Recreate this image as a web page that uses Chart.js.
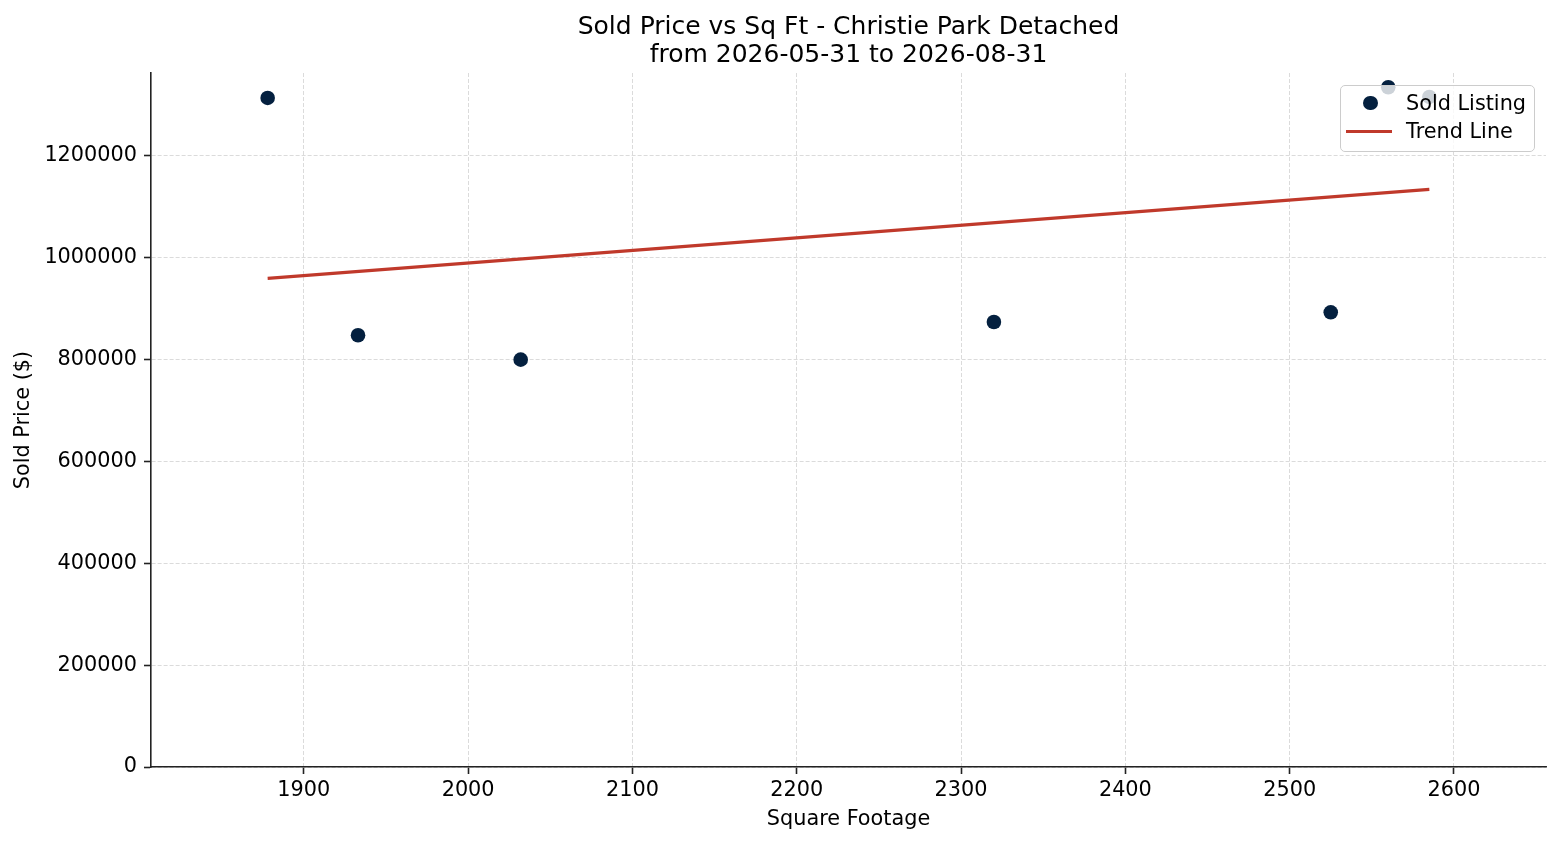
<!DOCTYPE html>
<html>
<head>
<meta charset="utf-8">
<title>Sold Price vs Sq Ft - Christie Park Detached</title>
<script src="https://cdn.jsdelivr.net/npm/chart.js@4.4.1/dist/chart.umd.min.js"></script>
<style>
  html, body { margin: 0; padding: 0; background: #fff; }
  .wrap { position: relative; width: 1560px; height: 845px; }
  #legend {
    position: absolute; left: 1340px; top: 85px; width: 195px; height: 67px;
    box-sizing: border-box; border: 1.5px solid #cccccc; border-radius: 5px;
    background: rgba(255, 255, 255, 0.8);
    font-family: 'DejaVu Sans', sans-serif; font-size: 20.8px; color: #000;
  }
  .item { position: absolute; left: 0; width: 100%; height: 28px; line-height: 28px; }
  .item .label { position: absolute; left: 65px; top: 0; white-space: nowrap; }
  .swatch-point { position: absolute; left: 22px; top: 7px; width: 14.6px; height: 14.6px; border-radius: 50%; }
  .swatch-line { position: absolute; left: 5px; top: 12.5px; width: 46px; height: 3.2px; }
</style>
</head>
<body>
<div class="wrap">
  <canvas id="chart" width="1560" height="845"></canvas>
  <div id="legend"></div>
</div>
<script>
// sold listings
const sqft = [1878, 1933, 2032, 2320, 2525, 2560, 2585];
const soldPrice = [1314000, 848000, 800000, 874000, 893000, 1335000, 1316000];

// trend line end points
const trendSqft = [1878, 2585];
const trendPrice = [959500, 1134500];

const titleLines = ["Sold Price vs Sq Ft - Christie Park Detached", "from 2026-05-31 to 2026-08-31"];
const seriesLabels = ["Sold Listing", "Trend Line"];
const xAxisLabel = "Square Footage";
const yAxisLabel = "Sold Price ($)";

const xTickValues = [1900, 2000, 2100, 2200, 2300, 2400, 2500, 2600];
const yTickValues = [0, 200000, 400000, 600000, 800000, 1000000, 1200000];

const xMin = 1807, xMax = 2656;
const yMin = 0, yMax = 1363000;

const pointColor = "#04203f";
const trendColor = "#c0392b";
const fontFamily = "'DejaVu Sans', sans-serif";

Chart.defaults.font.family = fontFamily;
Chart.defaults.font.size = 20.8;
Chart.defaults.color = "#000";

const gridStyle = {
  color: "rgba(176, 176, 176, 0.5)",
  lineWidth: 0.9,
  drawTicks: true,
  tickLength: 7,
  tickColor: "#222",
  tickWidth: 1.6,
  tickBorderDash: [],
};
const borderStyle = { display: true, color: "#222", width: 1.6, dash: [4, 2] };

const chart = new Chart(document.getElementById("chart").getContext("2d"), {
  type: "scatter",
  data: {
    datasets: [
      {
        label: seriesLabels[0],
        data: sqft.map((x, i) => ({ x: x, y: soldPrice[i] })),
        backgroundColor: pointColor,
        borderColor: pointColor,
        borderWidth: 0,
        pointRadius: 7.3,
        pointHoverRadius: 7.3,
      },
      {
        label: seriesLabels[1],
        type: "line",
        data: trendSqft.map((x, i) => ({ x: x, y: trendPrice[i] })),
        borderColor: trendColor,
        backgroundColor: trendColor,
        borderWidth: 3.2,
        pointRadius: 0,
        showLine: true,
        fill: false,
        tension: 0,
      },
    ],
  },
  options: {
    responsive: false,
    devicePixelRatio: 1,
    animation: false,
    layout: { padding: { top: 0, right: 14, bottom: 0, left: 0 } },
    plugins: {
      legend: { display: false },
      tooltip: { enabled: false },
      title: {
        display: true,
        fullSize: false,
        text: titleLines,
        color: "#000",
        font: { size: 25, weight: "normal", lineHeight: 1.12 },
        padding: { top: 13, bottom: 4 },
      },
    },
    scales: {
      x: {
        type: "linear",
        min: xMin,
        max: xMax,
        afterFit: (scale) => { scale.height = 78; },
        afterBuildTicks: (scale) => { scale.ticks = xTickValues.map((v) => ({ value: v })); },
        ticks: { padding: 4, callback: (v) => String(v) },
        grid: gridStyle,
        border: borderStyle,
        title: { display: true, text: xAxisLabel, padding: { top: 0, bottom: 13 } },
      },
      y: {
        type: "linear",
        min: yMin,
        max: yMax,
        afterFit: (scale) => { scale.width = 151; },
        afterBuildTicks: (scale) => { scale.ticks = yTickValues.map((v) => ({ value: v })); },
        ticks: { padding: 7, callback: (v) => String(v) },
        grid: gridStyle,
        border: borderStyle,
        title: { display: true, text: yAxisLabel, padding: { top: 11, bottom: 0 } },
      },
    },
  },
});

// legend box inside the axes, like the original
const legendBox = document.getElementById("legend");
const itemCenters = [16.5, 45];
chart.data.datasets.forEach((ds, i) => {
  const item = document.createElement("div");
  item.className = "item";
  item.style.top = (itemCenters[i] - 14) + "px";
  const swatch = document.createElement("div");
  swatch.className = ds.type === "line" ? "swatch-line" : "swatch-point";
  swatch.style.background = ds.type === "line" ? ds.borderColor : ds.backgroundColor;
  const label = document.createElement("span");
  label.className = "label";
  label.textContent = ds.label;
  item.appendChild(swatch);
  item.appendChild(label);
  legendBox.appendChild(item);
});
</script>
</body>
</html>
